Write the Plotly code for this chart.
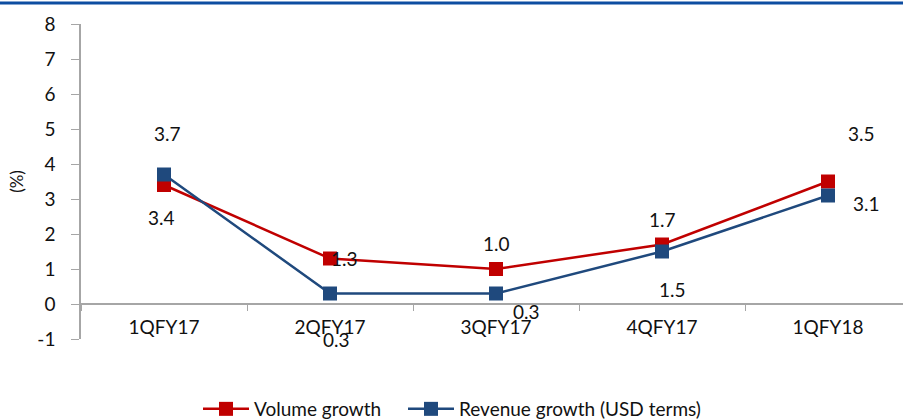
import plotly.graph_objects as go

categories = ["1QFY17", "2QFY17", "3QFY17", "4QFY17", "1QFY18"]
volume_growth = [3.4, 1.3, 1.0, 1.7, 3.5]
revenue_growth = [3.7, 0.3, 0.3, 1.5, 3.1]
y_ticks = [-1, 0, 1, 2, 3, 4, 5, 6, 7, 8]
y_tick_text = ["-1", "0", "1", "2", "3", "4", "5", "6", "7", "8"]

# label offsets (pixels) for data labels
vol_shift = [(-3, -32), (14, 0), (0, 26), (0, 25), (33, 48)]
rev_shift = [(3, 41), (6, -46), (30, -18), (10, -38), (38, -8)]

RED = "#C00000"
BLUE = "#1F497D"
FONT = "Lato"
AX = "#A6A6A6"
FS = 19

fig = go.Figure()
fig.add_trace(go.Scatter(
    x=categories, y=volume_growth, mode="lines+markers", name="Volume growth",
    line=dict(color=RED, width=2.5),
    marker=dict(symbol="square", size=14, color=RED), legend="legend",
))
fig.add_trace(go.Scatter(
    x=categories, y=revenue_growth, mode="lines+markers", name="Revenue growth (USD terms)",
    line=dict(color=BLUE, width=2.5),
    marker=dict(symbol="square", size=14, color=BLUE), legend="legend2",
))

annotations = []
for c, v, (dx, dy) in zip(categories, volume_growth, vol_shift):
    annotations.append(dict(x=c, y=v, text=f"{v:.1f}", showarrow=False,
                            xshift=dx, yshift=dy, font=dict(size=FS, color="#111111", family=FONT)))
for c, v, (dx, dy) in zip(categories, revenue_growth, rev_shift):
    annotations.append(dict(x=c, y=v, text=f"{v:.1f}", showarrow=False,
                            xshift=dx, yshift=dy, font=dict(size=FS, color="#111111", family=FONT)))

y_min, y_max = y_ticks[0], y_ticks[-1]
plot_w = 903 - 81
cat_w = 166
x_right = -0.5 + plot_w / cat_w

legend_common = dict(orientation="h", xanchor="left", yref="container",
                     y=1 - 409 / 419, yanchor="middle", itemwidth=46,
                     font=dict(size=FS, family=FONT), bgcolor="rgba(0,0,0,0)")

fig.update_layout(
    width=903, height=419,
    margin=dict(l=81, r=0, t=24, b=80, autoexpand=False),
    paper_bgcolor="white", plot_bgcolor="white",
    font=dict(family=FONT, size=FS, color="#111111"),
    showlegend=True,
    legend=dict(x=(198 - 81) / plot_w, **legend_common),
    legend2=dict(x=(403 - 81) / plot_w, **legend_common),
    xaxis=dict(
        type="category", range=[-0.5, x_right],
        showline=True, linecolor=AX, linewidth=1.5,
        ticks="outside", tickson="boundaries", ticklen=6, tickcolor=AX,
        showgrid=False, zeroline=False,
        anchor="free", position=(0 - y_min) / (y_max - y_min),
        tickfont=dict(size=FS, family=FONT), ticklabelstandoff=6,
    ),
    yaxis=dict(
        range=[y_min, y_max], tickvals=y_ticks, ticktext=y_tick_text,
        showline=True, linecolor=AX, linewidth=1.5,
        ticks="outside", ticklen=8, tickcolor=AX,
        showgrid=False, zeroline=False,
        tickfont=dict(size=FS, family=FONT), ticklabelstandoff=12,
        title=dict(text="(%)", font=dict(size=17, family=FONT), standoff=9),
    ),
    annotations=annotations,
    shapes=[dict(type="line", xref="paper", yref="paper",
                 x0=-0.2, x1=1.1, y0=1 + 21 / 315, y1=1 + 21 / 315,
                 line=dict(color="#0D4DA1", width=3))],
)

fig.write_html("out.html")
